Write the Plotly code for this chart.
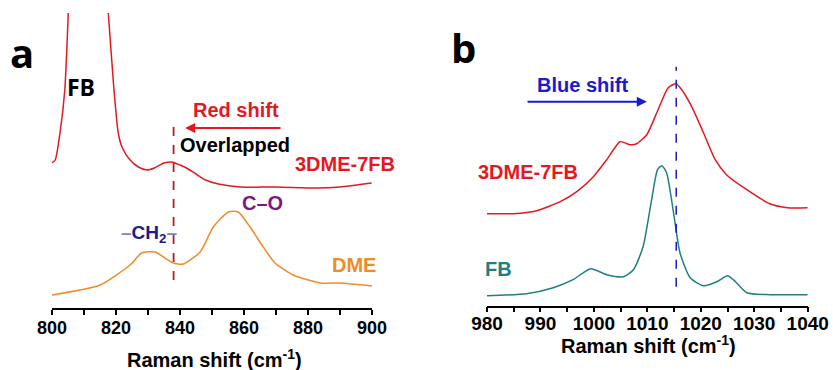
import plotly.graph_objects as go

# ---------------- data (arbitrary intensity units) ----------------
# Panel a: 800-900 cm-1
a_mix_x = [800, 801, 802.5, 804, 805.1, 806, 808, 811, 814, 816, 817.6, 819.2, 820.7, 822, 824.4,
           827, 829.6, 832, 835, 837.4, 840, 842, 845, 848, 852, 858.8, 870, 882.7, 890, 899.9]
a_mix_y = [145, 148, 175, 218, 295, 360, 450, 480, 450, 370, 295, 225, 175, 160, 148,
           141, 138, 140, 145, 146, 143, 140, 134, 128, 124, 121, 121, 120, 121, 125]

a_dme_x = [800, 815, 824.4, 828, 832.2, 834.8, 837.9, 841, 846.3, 850.4, 855.1, 858.2, 861.9,
           866, 869.7, 875.4, 883.8, 890, 900]
a_dme_y = [13, 23, 43, 55, 56, 51, 45, 44, 56, 81, 96, 96, 81,
           61, 45, 33, 25, 25, 22]

# Panel b: 980-1040 cm-1
b_mix_x = [980, 984.9, 989.3, 993.7, 996.8, 999.9, 1002.4, 1004.9, 1006.8, 1008, 1009.9, 1012,
           1013.9, 1015.4, 1016.7, 1018.3, 1020.5, 1022.7, 1024.8, 1028.6, 1032.9, 1036.2, 1040]
b_mix_y = [92, 92, 95, 104, 114, 129, 146, 164, 161, 162, 171, 196,
           218, 222, 214, 199, 173, 146, 131, 116, 102, 98, 98]

b_fb_x = [980, 987.4, 992.4, 996.1, 999.4, 1002.4, 1005.5, 1007.4, 1009.2, 1010.8, 1011.9, 1012.7,
          1013.6, 1014.9, 1016.1, 1018, 1020.5, 1023, 1025, 1026.5, 1028.6, 1032.9, 1040]
b_fb_y = [10, 12, 18, 26, 37, 31, 29, 36, 59, 106, 136, 140,
          133, 93, 53, 28, 20, 24, 30, 24, 13, 11, 11]

a_ticks = [800, 820, 840, 860, 880, 900]
b_ticks = [980, 990, 1000, 1010, 1020, 1030, 1040]

overlap_pos = 838          # dashed marker panel a
overlap_span = [28, 183]
blue_peak_pos = 1015.4     # dashed marker panel b
blue_peak_span = [19, 239]
red_arrow = (871.9, 841.6, 180)    # tail, head, level
blue_arrow = (987.3, 1009.9, 204)

x_title = "Raman shift (cm<sup>-1</sup>)"

# ---------------- styling ----------------
RED = "#e3191f"
ORANGE = "#f08c28"
TEAL = "#1f8080"
W, H = 833, 370
ARIAL = "Arial, Liberation Sans, sans-serif"


def px(x):
    return x / W


def py(y):
    return 1 - y / H


fig = go.Figure()
sp = dict(width=1.5, shape="spline", smoothing=0.6)
fig.add_trace(go.Scatter(x=a_mix_x, y=a_mix_y, mode="lines", line=dict(color=RED, **sp), xaxis="x", yaxis="y"))
fig.add_trace(go.Scatter(x=a_dme_x, y=a_dme_y, mode="lines", line=dict(color=ORANGE, **sp), xaxis="x", yaxis="y"))
fig.add_trace(go.Scatter(x=b_mix_x, y=b_mix_y, mode="lines", line=dict(color=RED, **sp), xaxis="x2", yaxis="y2"))
fig.add_trace(go.Scatter(x=b_fb_x, y=b_fb_y, mode="lines", line=dict(color=TEAL, **sp), xaxis="x2", yaxis="y2"))

axis_common = dict(
    showline=True, linecolor="black", linewidth=1.5, mirror=False,
    ticks="outside", ticklen=5, tickwidth=1.5, tickcolor="black",
    showgrid=False, zeroline=False, automargin=False,
)

fig.update_layout(
    width=W, height=H, margin=dict(l=0, r=0, t=0, b=0, autoexpand=False),
    paper_bgcolor="white", plot_bgcolor="white", showlegend=False,
    xaxis=dict(domain=[52 / W, 372 / W], range=[800, 900], tickvals=a_ticks,
               minor=dict(ticks="outside", ticklen=5, tickwidth=1.5, dtick=10, tickcolor="black"),
               tickfont=dict(family=ARIAL, size=18, color="black", weight="bold"),
               ticklabelstandoff=-2,
               anchor="y", **axis_common),
    yaxis=dict(domain=[(H - 308) / H, (H - 13) / H], range=[0, 295], visible=False, anchor="x"),
    xaxis2=dict(domain=[487 / W, 807.7 / W], range=[980, 1040], tickvals=b_ticks,
                minor=dict(ticks="outside", ticklen=5, tickwidth=1.5, dtick=5, tickcolor="black"),
                tickfont=dict(family=ARIAL, size=19, color="black", weight="bold"),
                ticklabelstandoff=-5,
                anchor="y2", **axis_common),
    yaxis2=dict(domain=[(H - 305.7) / H, (H - 13) / H], range=[0, 292.7], visible=False, anchor="x2"),
)

# dashed marker lines
fig.add_shape(type="line", xref="x", yref="y", x0=overlap_pos, x1=overlap_pos,
              y0=overlap_span[0], y1=overlap_span[1],
              line=dict(color="#b0202a", width=1.8, dash="dash"))
fig.add_shape(type="line", xref="x2", yref="y2", x0=blue_peak_pos, x1=blue_peak_pos,
              y0=blue_peak_span[0], y1=blue_peak_span[1],
              line=dict(color="#1a1ab8", width=1.5, dash="dash"))

# arrows
fig.add_annotation(x=red_arrow[1], y=red_arrow[2], ax=red_arrow[0], ay=red_arrow[2],
                   xref="x", yref="y", axref="x", ayref="y", text="", showarrow=True,
                   arrowhead=2, arrowsize=1, arrowwidth=2, arrowcolor=RED)
fig.add_annotation(x=blue_arrow[1], y=blue_arrow[2], ax=blue_arrow[0], ay=blue_arrow[2],
                   xref="x2", yref="y2", axref="x2", ayref="y2", text="", showarrow=True,
                   arrowhead=2, arrowsize=1, arrowwidth=2, arrowcolor="#1a1ad0")


def label(text, x, y, color, size, family=ARIAL, xanchor="center"):
    fig.add_annotation(x=px(x), y=py(y), xref="paper", yref="paper", text=text,
                       showarrow=False, xanchor=xanchor, yanchor="middle",
                       font=dict(family=family, size=size, color=color, weight="bold"))


CAL = "Open Sans, Lato, sans-serif"
label(x_title, 214, 358, "black", 20)
label(x_title, 648, 344, "black", 20)
label("a", 22, 52, "black", 40, CAL)
label("b", 463, 47, "black", 40, CAL)
label("FB", 81, 87, "black", 23, CAL)
label("Red shift", 236, 110, RED, 20)
label("Overlapped", 235, 145, "black", 20)
label("3DME-7FB", 345, 164, RED, 20)
label("C–O", 262, 203, "#7a1a80", 20)
label("<span style='color:#7a84b8'>–</span>CH<sub>2</sub><span style='color:#7a84b8'>–</span>", 149, 234, "#1a1a90", 19)
label("DME", 354, 265, ORANGE, 20)
label("Blue shift", 582, 85, "#1a1ad0", 20)
label("3DME-7FB", 528, 172, RED, 20)
label("FB", 498, 269, TEAL, 20)

fig.write_html("out.html")
